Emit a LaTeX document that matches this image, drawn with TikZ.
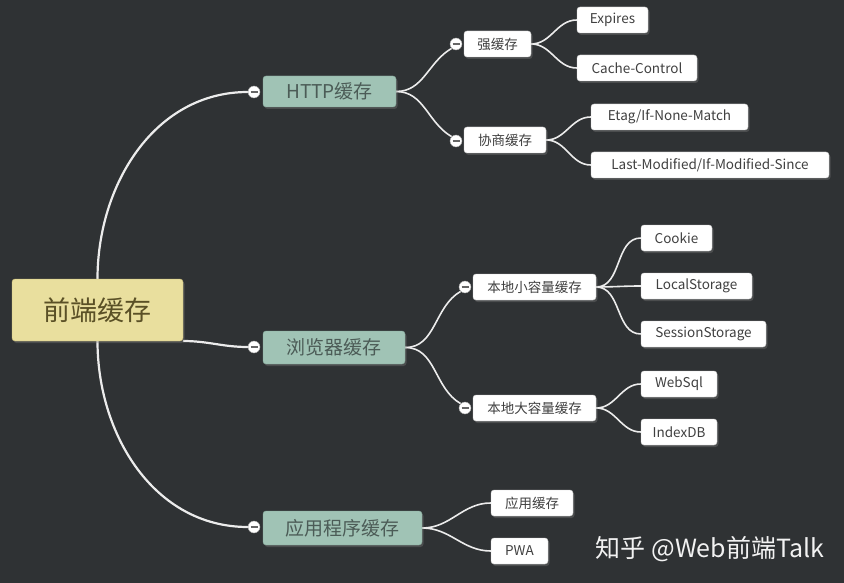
\documentclass[tikz,border=0pt]{standalone}
\usepackage{fontspec}
\setmainfont{Noto Sans CJK SC}
\usetikzlibrary{shadows}
\definecolor{bgcol}{HTML}{2F3234}
\definecolor{rootfill}{HTML}{E9DF9E}
\definecolor{rootline}{HTML}{C9BB76}
\definecolor{roottext}{HTML}{5A5026}
\definecolor{branchfill}{HTML}{A0C3B5}
\definecolor{branchline}{HTML}{88AA9C}
\definecolor{branchtext}{HTML}{4C5C57}
\definecolor{leafline}{HTML}{CFCFCF}
\definecolor{leaftext}{HTML}{404040}
\definecolor{linkcol}{HTML}{ECECEC}
\pgfdeclarelayer{bg}
\pgfdeclarelayer{links}
\pgfsetlayers{bg,links,main}

\begin{document}
\begin{tikzpicture}[x=1pt,y=1pt,
        every node/.style={inner sep=0pt,rounded corners=3pt},
        shade/.style={drop shadow={opacity=0.35,shadow xshift=1.5,shadow yshift=-2}},
        root/.style={shade,draw=rootline,fill=rootfill,text=roottext,minimum height=62,
            font=\fontsize{27}{27}\selectfont},
        branch/.style={shade,draw=branchline,fill=branchfill,text=branchtext,
            font=\fontsize{19}{19}\selectfont},
        sub/.style={shade,draw=leafline,fill=white,text=leaftext,minimum height=26,
            font=\fontsize{13.5}{13.5}\selectfont},
        leaf/.style={sub},
        fold/.style={circle,rounded corners=0pt,draw=gray!70,fill=white,minimum size=12,
            path picture={\draw[gray!80!black,line width=1.2]
                ([xshift=-3.5]path picture bounding box.center) --
                ([xshift=3.5]path picture bounding box.center);}},
        link/.style={draw=linkcol,line width=1.6},
        trunk/.style={draw=linkcol,line width=2.2}]

    % background / bounding box
    \begin{pgfonlayer}{bg}
        \fill[bgcol] (0,0) rectangle (844,-583);
    \end{pgfonlayer}

    \coordinate (rootbr) at (183,-341);

    % nodes
    \node[root,minimum width=171] (root) at (97.5,-310) {前端缓存};

    \node[branch,minimum width=133,minimum height=31] (http) at (329.5,-91.5) {HTTP缓存};
    \node[branch,minimum width=142,minimum height=33] (browser) at (334,-347.5) {浏览器缓存};
    \node[branch,minimum width=159,minimum height=34] (app) at (342.5,-528) {应用程序缓存};

    \node[sub,minimum width=67] (strong) at (497.5,-44) {强缓存};
    \node[sub,minimum width=82] (nego) at (505,-140) {协商缓存};
    \node[sub,minimum width=123] (small) at (534.5,-287) {本地小容量缓存};
    \node[sub,minimum width=123] (large) at (534.5,-408) {本地大容量缓存};

    \node[leaf,minimum width=71] (expires) at (612.5,-20) {Expires};
    \node[leaf,minimum width=120] (cachectl) at (637,-68) {Cache-Control};
    \node[leaf,minimum width=157] (etag) at (669.5,-117) {Etag/If-None-Match};
    \node[leaf,minimum width=238] (lastmod) at (710,-165) {Last-Modified/If-Modified-Since};
    \node[leaf,minimum width=71] (cookie) at (676.5,-238) {Cookie};
    \node[leaf,minimum width=111] (localst) at (696.5,-286) {LocalStorage};
    \node[leaf,minimum width=125] (sessst) at (703.5,-334) {SessionStorage};
    \node[leaf,minimum width=76] (websql) at (679,-384) {WebSql};
    \node[leaf,minimum width=76] (indexdb) at (679,-432) {IndexDB};
    \node[leaf,minimum width=82] (appcache) at (532,-503) {应用缓存};
    \node[leaf,minimum width=57] (pwa) at (519.5,-551) {PWA};

    % fold markers
    \node[fold] (fhttp) at (254,-92) {};
    \node[fold] (fbrowser) at (254,-347) {};
    \node[fold] (fapp) at (254,-527) {};
    \node[fold] (fstrong) at (456,-44) {};
    \node[fold] (fnego) at (456,-141) {};
    \node[fold] (fsmall) at (465,-287) {};
    \node[fold] (flarge) at (465,-408) {};

    \begin{pgfonlayer}{links}
    % root to branches
    \draw[trunk] (root.north) to[out=90,in=180] (fhttp.west);
    \draw[trunk] (rootbr) to[out=0,in=180] (fbrowser.west);
    \draw[trunk] (root.south) to[out=-90,in=180] (fapp.west);

    % branches to subs
    \draw[link] (http.east) to[out=0,in=210] (fstrong.south west);
    \draw[link] (http.east) to[out=0,in=150] (fnego.north west);
    \draw[link] (browser.east) to[out=0,in=210] (fsmall.south west);
    \draw[link] (browser.east) to[out=0,in=150] (flarge.north west);

    % subs to leaves
    \foreach \a/\b in {strong/expires,strong/cachectl,nego/etag,nego/lastmod,
            small/cookie,small/localst,small/sessst,large/websql,large/indexdb,
            app/appcache,app/pwa}
        \draw[link] (\a.east) to[out=0,in=180] (\b.west);
    \end{pgfonlayer}

    \node[text=white!90!gray,font=\fontsize{25}{25}\selectfont,rounded corners=0pt]
        (mark) at (710,-549) {知乎 @Web前端Talk};
\end{tikzpicture}
\end{document}
